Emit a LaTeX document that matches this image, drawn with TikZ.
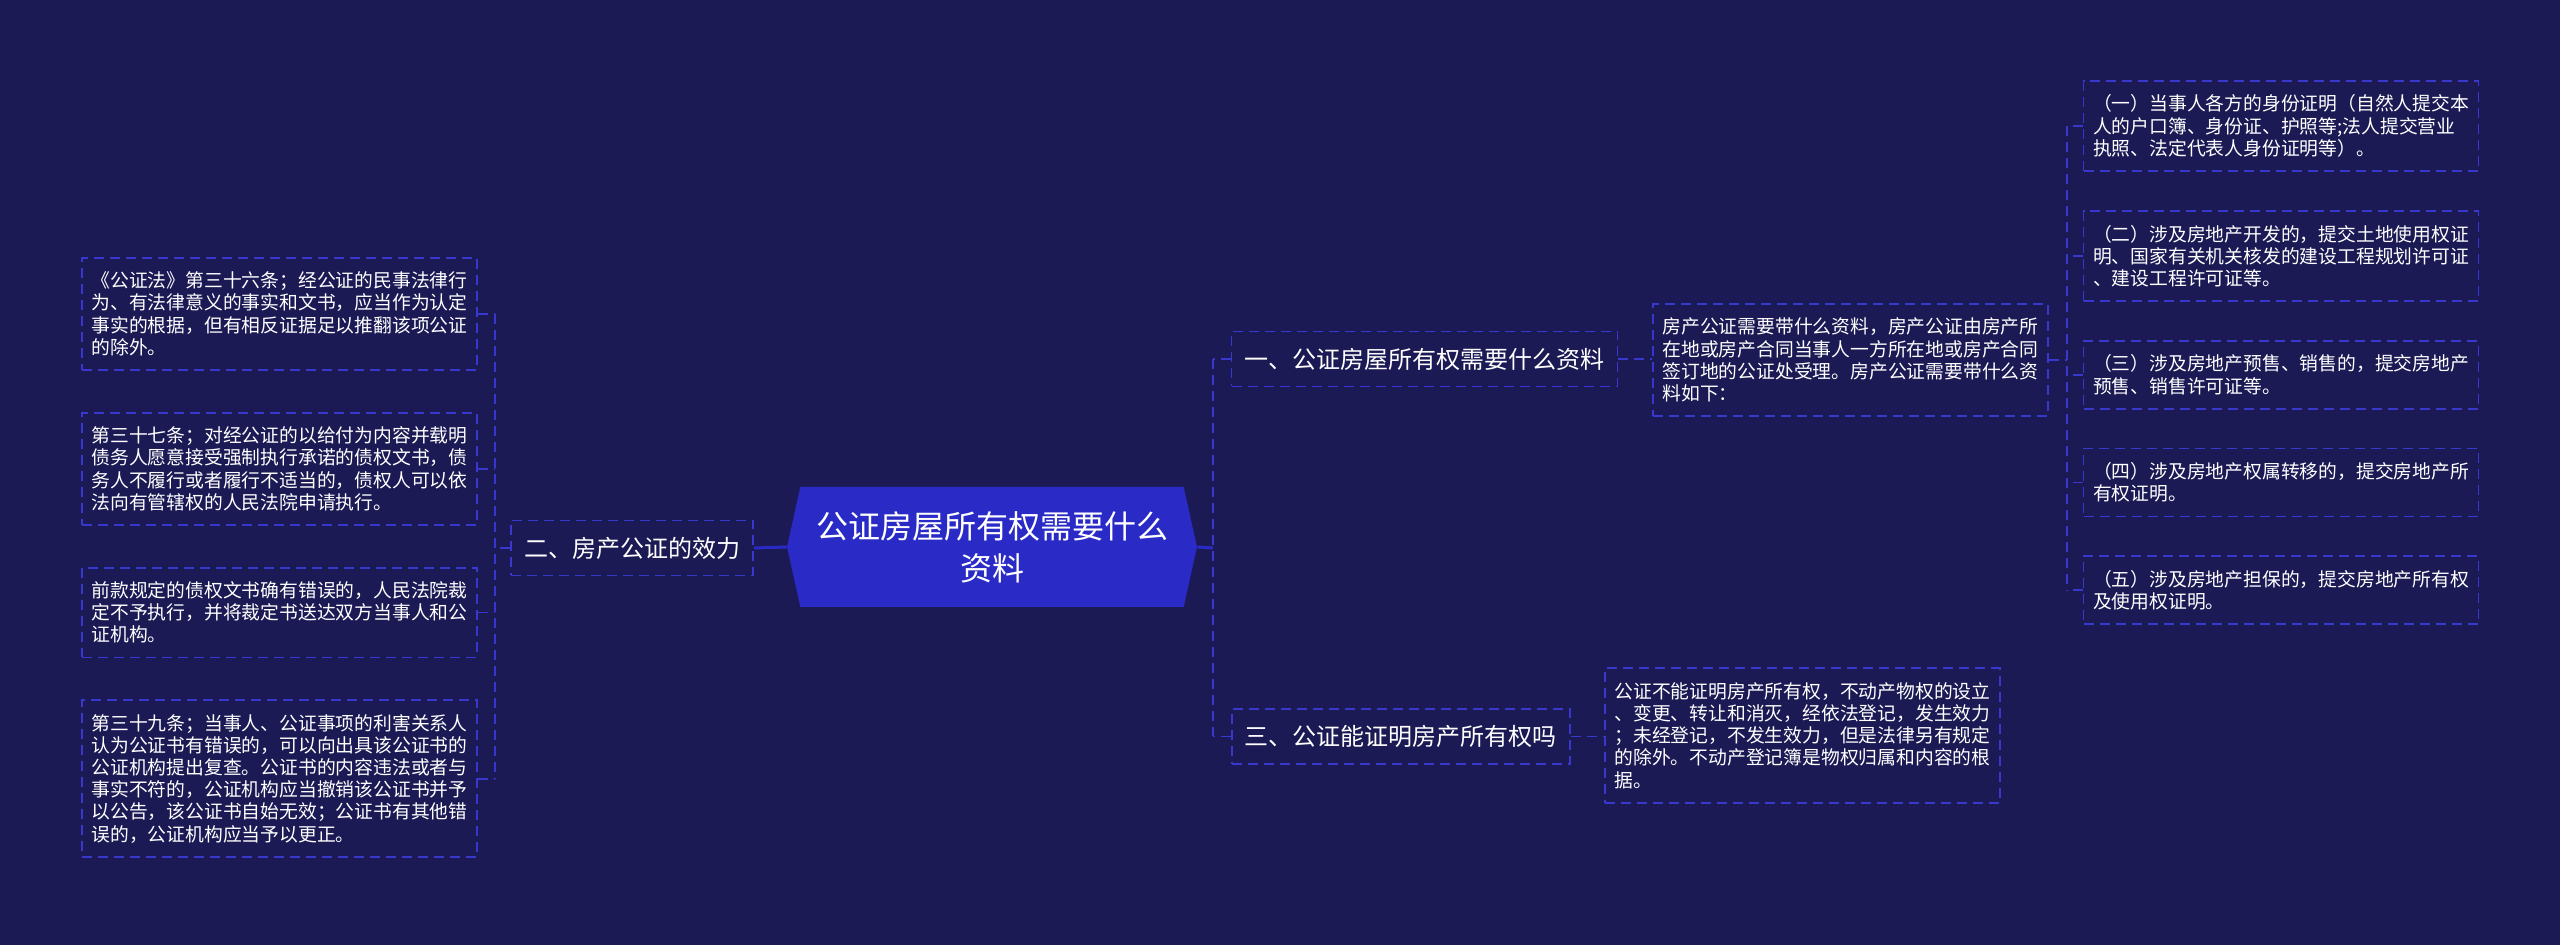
\documentclass[tikz,border=0pt]{standalone}
\usepackage{fontspec}
\setmainfont{Noto Sans CJK SC}
\usepackage{xcolor}
\usetikzlibrary{shapes.symbols, positioning}
\definecolor{bgnavy}{HTML}{1B1A55}
\definecolor{rootblue}{HTML}{2A2AC6}
\definecolor{dashblue}{HTML}{3838CF}
\tikzset{
  root/.style={signal, signal to=west and east, signal pointer angle=155, fill=rootblue, text=white, align=center, minimum width=205pt, minimum height=60pt, inner sep=0pt, font=\fontsize{16pt}{21pt}\selectfont},
  branch/.style={rectangle, draw=dashblue, dash pattern=on 5pt off 3pt, line width=0.9pt, text=white, align=center, minimum height=27.5pt, inner xsep=6.5pt, font=\fontsize{12pt}{14pt}\selectfont},
  leaf/.style={rectangle, draw=dashblue, dash pattern=on 5pt off 3pt, line width=0.9pt, text=white, align=left, text width=188pt, inner xsep=4.75pt, inner ysep=7pt, font=\fontsize{9.4pt}{11.1pt}\selectfont},
  link/.style={draw=rootblue, line width=1.5pt},
  dashlink/.style={draw=dashblue, dash pattern=on 5pt off 3pt, line width=0.9pt},
}

\begin{document}
\begin{tikzpicture}[x=0.5pt, y=-0.5pt, node distance=20.5pt]
  \fill[bgnavy] (0,0) rectangle (2560,945);
  \useasboundingbox (0,0) rectangle (2560,945);
  % centre
  \node[root] (root) at (992,547) {公证房屋所有权需要什么\\资料};
  % left side
  \node[branch] (effect) at (632,548) {二、房产公证的效力};
  \node[leaf, anchor=north] (law36) at (279.5,257) {《公证法》第三十六条；经公证的民事法律行\\为、有法律意义的事实和文书，应当作为认定\\事实的根据，但有相反证据足以推翻该项公证\\的除外。};
  \node[leaf, below=of law36] (law37) {第三十七条；对经公证的以给付为内容并载明\\债务人愿意接受强制执行承诺的债权文书，债\\务人不履行或者履行不适当的，债权人可以依\\法向有管辖权的人民法院申请执行。};
  \node[leaf, below=of law37] (law37b) {前款规定的债权文书确有错误的，人民法院裁\\定不予执行，并将裁定书送达双方当事人和公\\证机构。};
  \node[leaf, below=of law37b] (law39) {第三十九条；当事人、公证事项的利害关系人\\认为公证书有错误的，可以向出具该公证书的\\公证机构提出复查。公证书的内容违法或者与\\事实不符的，公证机构应当撤销该公证书并予\\以公告，该公证书自始无效；公证书有其他错\\误的，公证机构应当予以更正。};
  % right side
  \node[branch] (needs) at (1424.5,359) {一、公证房屋所有权需要什么资料};
  \node[branch, anchor=west] (proof) at (1231,736.5) {三、公证能证明房产所有权吗};
  \node[leaf, anchor=west] (needsdesc) at (1652,360) {房产公证需要带什么资料，房产公证由房产所\\在地或房产合同当事人一方所在地或房产合同\\签订地的公证处受理。房产公证需要带什么资\\料如下：};
  \node[leaf, anchor=west] (proofdesc) at (1604,735.5) {公证不能证明房产所有权，不动产物权的设立\\、变更、转让和消灭，经依法登记，发生效力\\；未经登记，不发生效力，但是法律另有规定\\的除外。不动产登记簿是物权归属和内容的根\\据。};
  \node[leaf, anchor=north] (item1) at (2281,80) {（一）当事人各方的身份证明（自然人提交本\\人的户口簿、身份证、护照等;法人提交营业\\执照、法定代表人身份证明等）。};
  \node[leaf, below=19pt of item1] (item2) {（二）涉及房地产开发的，提交土地使用权证\\明、国家有关机关核发的建设工程规划许可证\\、建设工程许可证等。};
  \node[leaf, below=19pt of item2] (item3) {（三）涉及房地产预售、销售的，提交房地产\\预售、销售许可证等。};
  \node[leaf, below=19pt of item3] (item4) {（四）涉及房地产权属转移的，提交房地产所\\有权证明。};
  \node[leaf, below=19pt of item4] (item5) {（五）涉及房地产担保的，提交房地产所有权\\及使用权证明。};
  % junctions
  \coordinate (lj) at (495,548);
  \coordinate (rj) at (1213,548);
  \coordinate (nj) at (2067,360);
  % connectors
  \draw[link] (root.west) -- (effect.east);
  \draw[link] (root.east) -- (rj);
  \draw[dashlink] (effect.west) -- (lj);
  \draw[dashlink] (law36.east -| lj) -- (law39.east -| lj);
  \foreach \n in {law36, law37, law37b, law39}
    \draw[dashlink] (\n.east) -- (\n.east -| lj);
  \draw[dashlink] (needs.west -| rj) -- (proof.west -| rj);
  \draw[dashlink] (needs.west) -- (needs.west -| rj);
  \draw[dashlink] (proof.west) -- (proof.west -| rj);
  \draw[dashlink] (needs.east) -- (needs.east -| needsdesc.west);
  \draw[dashlink] (proof.east) -- (proof.east -| proofdesc.west);
  \draw[dashlink] (needsdesc.east) -- (nj);
  \draw[dashlink] (item1.west -| nj) -- (item5.west -| nj);
  \foreach \n in {item1, item2, item3, item4, item5}
    \draw[dashlink] (\n.west) -- (\n.west -| nj);
\end{tikzpicture}
\end{document}
